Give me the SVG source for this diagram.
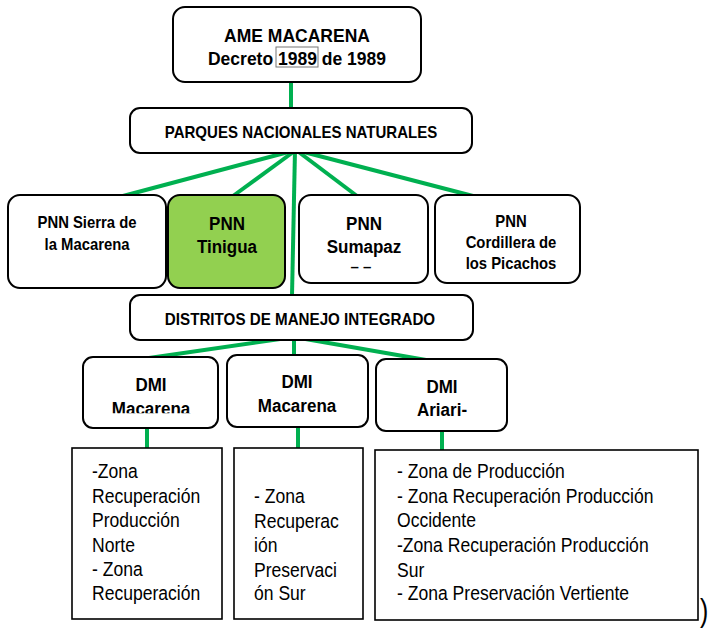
<svg xmlns="http://www.w3.org/2000/svg" width="712" height="629" viewBox="0 0 712 629">
<style>
.box{fill:#fff;stroke:#000;stroke-width:2}
.green{fill:#92d050;stroke:#000;stroke-width:2}
.sq{fill:#fff;stroke:#000;stroke-width:1.6}
.conn{stroke:#00b050;stroke-width:4;fill:none}
.b{font-family:"Liberation Sans",Arial,sans-serif;font-weight:bold;fill:#000;text-anchor:middle}
.r{font-family:"Liberation Sans",Arial,sans-serif;font-size:19.5px;fill:#000}
</style>
<defs>
<clipPath id="clipDmi1"><rect x="-80" y="357" width="160" height="56.3"/></clipPath>
</defs>
<rect width="712" height="629" fill="#fff"/>
<g id="connectors">
<line class="conn" x1="291" y1="82" x2="291" y2="108"/>
<line class="conn" x1="296" y1="150" x2="123" y2="196"/>
<line class="conn" x1="296" y1="150" x2="233" y2="196"/>
<line class="conn" x1="296" y1="150" x2="357" y2="196"/>
<line class="conn" x1="296" y1="150" x2="473" y2="196"/>
<line class="conn" x1="295" y1="150" x2="292" y2="296"/>
<line class="conn" x1="294" y1="337" x2="149" y2="358"/>
<line class="conn" x1="294" y1="337" x2="294" y2="356"/>
<line class="conn" x1="294" y1="337" x2="426" y2="360"/>
<line class="conn" x1="147" y1="428" x2="147" y2="449"/>
<line class="conn" x1="298" y1="427" x2="298" y2="449"/>
<line class="conn" x1="442" y1="431" x2="442" y2="451"/>
</g>
<g id="ame">
<rect class="box" x="173" y="7" width="248" height="75" rx="12"/>
<text class="b" x="297" y="42" font-size="17.5">AME MACARENA</text>
<text class="b" x="297" y="65" font-size="17.5">Decreto 1989 de 1989</text>
<rect x="276" y="47" width="42" height="20" fill="none" stroke="#777" stroke-width="1"/>
</g>
<g id="pnn">
<rect class="box" x="130" y="108" width="342" height="45" rx="10"/>
<text class="b" transform="translate(301,0) scale(0.94,1)" x="0" y="138" font-size="16">PARQUES NACIONALES NATURALES</text>
</g>
<g id="sierra">
<rect class="box" x="8" y="195" width="158" height="93" rx="12"/>
<g transform="translate(87,0) scale(0.9,1)">
<text class="b" x="0" y="228" font-size="16.5">PNN Sierra de</text>
<text class="b" x="0" y="250" font-size="16.5">la Macarena</text>
</g>
</g>
<g id="tinigua">
<rect class="green" x="168" y="195" width="117" height="93" rx="12"/>
<g transform="translate(227,0) scale(0.92,1)">
<text class="b" x="0" y="230" font-size="18.5">PNN</text>
<text class="b" x="0" y="253" font-size="18.5">Tinigua</text>
</g>
</g>
<g id="sumapaz">
<rect class="box" x="299" y="195" width="129" height="88" rx="12"/>
<g transform="translate(364,0) scale(0.92,1)">
<text class="b" x="0" y="230" font-size="18.5">PNN</text>
<text class="b" x="0" y="253" font-size="18.5">Sumapaz</text>
</g>
<text class="b" x="361" y="271.5" font-size="15">– –</text>
</g>
<g id="cordillera">
<rect class="box" x="435" y="195" width="145" height="88" rx="12"/>
<g transform="translate(511,0) scale(0.9,1)">
<text class="b" x="0" y="227" font-size="16.5">PNN</text>
<text class="b" x="0" y="248" font-size="16.5">Cordillera de</text>
<text class="b" x="0" y="269" font-size="16.5">los Picachos</text>
</g>
</g>
<g id="dmi">
<rect class="box" x="130" y="295" width="343" height="45" rx="10"/>
<text class="b" transform="translate(300,0) scale(0.92,1)" x="0" y="325" font-size="16.5">DISTRITOS DE MANEJO INTEGRADO</text>
</g>
<g id="dmi1">
<rect class="box" x="83" y="357" width="135" height="71" rx="10"/>
<g transform="translate(151,0) scale(0.92,1)">
<text class="b" x="0" y="391" font-size="18.5">DMI</text>
<text class="b" x="0" y="415.5" font-size="18.5" clip-path="url(#clipDmi1)">Macarena</text>
</g>
</g>
<g id="dmi2">
<rect class="box" x="227" y="355" width="141" height="72" rx="10"/>
<g transform="translate(297,0) scale(0.92,1)">
<text class="b" x="0" y="388" font-size="18.5">DMI</text>
<text class="b" x="0" y="412" font-size="18.5">Macarena</text>
</g>
</g>
<g id="dmi3">
<rect class="box" x="376" y="359" width="131" height="72" rx="10"/>
<g transform="translate(442,0) scale(0.92,1)">
<text class="b" x="0" y="393" font-size="18.5">DMI</text>
<text class="b" x="0" y="416" font-size="18.5">Ariari-</text>
</g>
</g>
<g id="zonas1">
<rect class="sq" x="72" y="448" width="150" height="171"/>
<g transform="translate(92,0) scale(0.9,1)">
<text class="r" x="0" y="478">-Zona</text>
<text class="r" x="0" y="503">Recuperación</text>
<text class="r" x="0" y="527">Producción</text>
<text class="r" x="0" y="552">Norte</text>
<text class="r" x="0" y="576">- Zona</text>
<text class="r" x="0" y="600">Recuperación</text>
</g>
</g>
<g id="zonas2">
<rect class="sq" x="234" y="448" width="129" height="171"/>
<g transform="translate(254,0) scale(0.9,1)">
<text class="r" x="0" y="503">- Zona</text>
<text class="r" x="0" y="528">Recuperac</text>
<text class="r" x="0" y="552">ión</text>
<text class="r" x="0" y="577">Preservaci</text>
<text class="r" x="0" y="600">ón Sur</text>
</g>
</g>
<g id="zonas3">
<rect class="sq" x="375" y="450" width="323" height="170"/>
<g transform="translate(397,0) scale(0.9,1)">
<text class="r" x="0" y="478">- Zona de Producción</text>
<text class="r" x="0" y="503">- Zona Recuperación Producción</text>
<text class="r" x="0" y="527">Occidente</text>
<text class="r" x="0" y="552">-Zona Recuperación Producción</text>
<text class="r" x="0" y="577">Sur</text>
<text class="r" x="0" y="600">- Zona Preservación Vertiente</text>
</g>
</g>
<text class="r" transform="translate(700,0) scale(0.8,1)" x="0" y="621" style="font-size:31px">)</text>
</svg>
